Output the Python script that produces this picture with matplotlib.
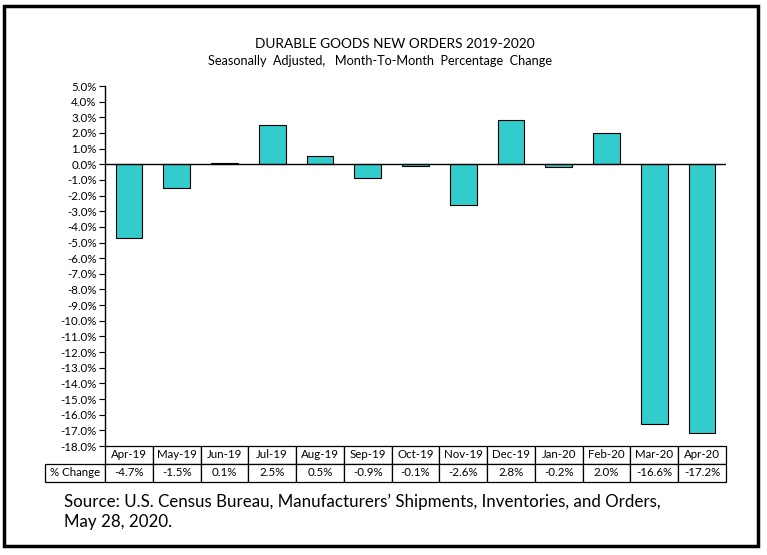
import matplotlib
matplotlib.use("Agg")
import matplotlib.pyplot as plt
from matplotlib.patches import Rectangle
import numpy as np

months = ["Apr-19", "May-19", "Jun-19", "Jul-19", "Aug-19", "Sep-19", "Oct-19",
          "Nov-19", "Dec-19", "Jan-20", "Feb-20", "Mar-20", "Apr-20"]
pct_change = [-4.7, -1.5, 0.1, 2.5, 0.5, -0.9, -0.1, -2.6, 2.8, -0.2, 2.0, -16.6, -17.2]
yticks = list(range(5, -19, -1))

plt.rcParams['font.family'] = ['Lato', 'DejaVu Sans']

W, H = 767, 555
fig = plt.figure(figsize=(W / 100, H / 100), dpi=100)
fig.patch.set_facecolor('white')

ax = fig.add_axes([105 / W, 1 - 446 / H, (726 - 105) / W, (446 - 86) / H])
x = np.arange(len(months))
ax.bar(x, pct_change, width=0.56, color='#33CCCC', edgecolor='black', linewidth=0.8, zorder=2)
ax.axhline(0, color='black', linewidth=1.0, zorder=3)
ax.set_xlim(-0.5, len(months) - 0.5)
ax.set_ylim(-18, 5)
ax.set_yticks(yticks)
ax.set_yticklabels([f"{v:.1f}%" for v in yticks], fontsize=8.3)
ax.tick_params(axis='y', direction='out', length=4, width=0.8, pad=2)
ax.set_xticks([])
for s in ['top', 'right', 'bottom']:
    ax.spines[s].set_visible(False)
ax.spines['left'].set_linewidth(1.0)

tab = ax.table(cellText=[[f"{v:.1f}%" for v in pct_change]],
               rowLabels=['% Change'], colLabels=months,
               cellLoc='center', rowLoc='center',
               bbox=[0, -36 / 360, 1, 36 / 360])
tab.auto_set_font_size(False)
tab.set_fontsize(8.3)
for (r, c), cell in tab.get_celld().items():
    cell.set_linewidth(0.9)
    cell.set_edgecolor('black')
lab = tab[1, -1]
lab.set_width(53 / 621)
lab.set_x(-53 / 621)

fig.text(395 / W, 1 - 44 / H, "DURABLE GOODS NEW ORDERS 2019-2020", ha='center', va='center', fontsize=9.8)
fig.text(380 / W, 1 - 61 / H, "Seasonally  Adjusted,   Month-To-Month  Percentage  Change",
         ha='center', va='center', fontsize=9.1)

fig.text(64 / W, 1 - 502 / H, "Source: U.S. Census Bureau, Manufacturers\u2019 Shipments, Inventories, and Orders,",
         ha='left', va='center', fontsize=12.2)
fig.text(64 / W, 1 - 522 / H, "May 28, 2020.", ha='left', va='center', fontsize=12.2)

fig.patches.append(Rectangle((4 / W, 1 - 546 / H), (758 - 4) / W, (546 - 6) / H,
                             transform=fig.transFigure, fill=False, edgecolor='black',
                             linewidth=2.5))

fig.savefig("out.png", dpi=100)
